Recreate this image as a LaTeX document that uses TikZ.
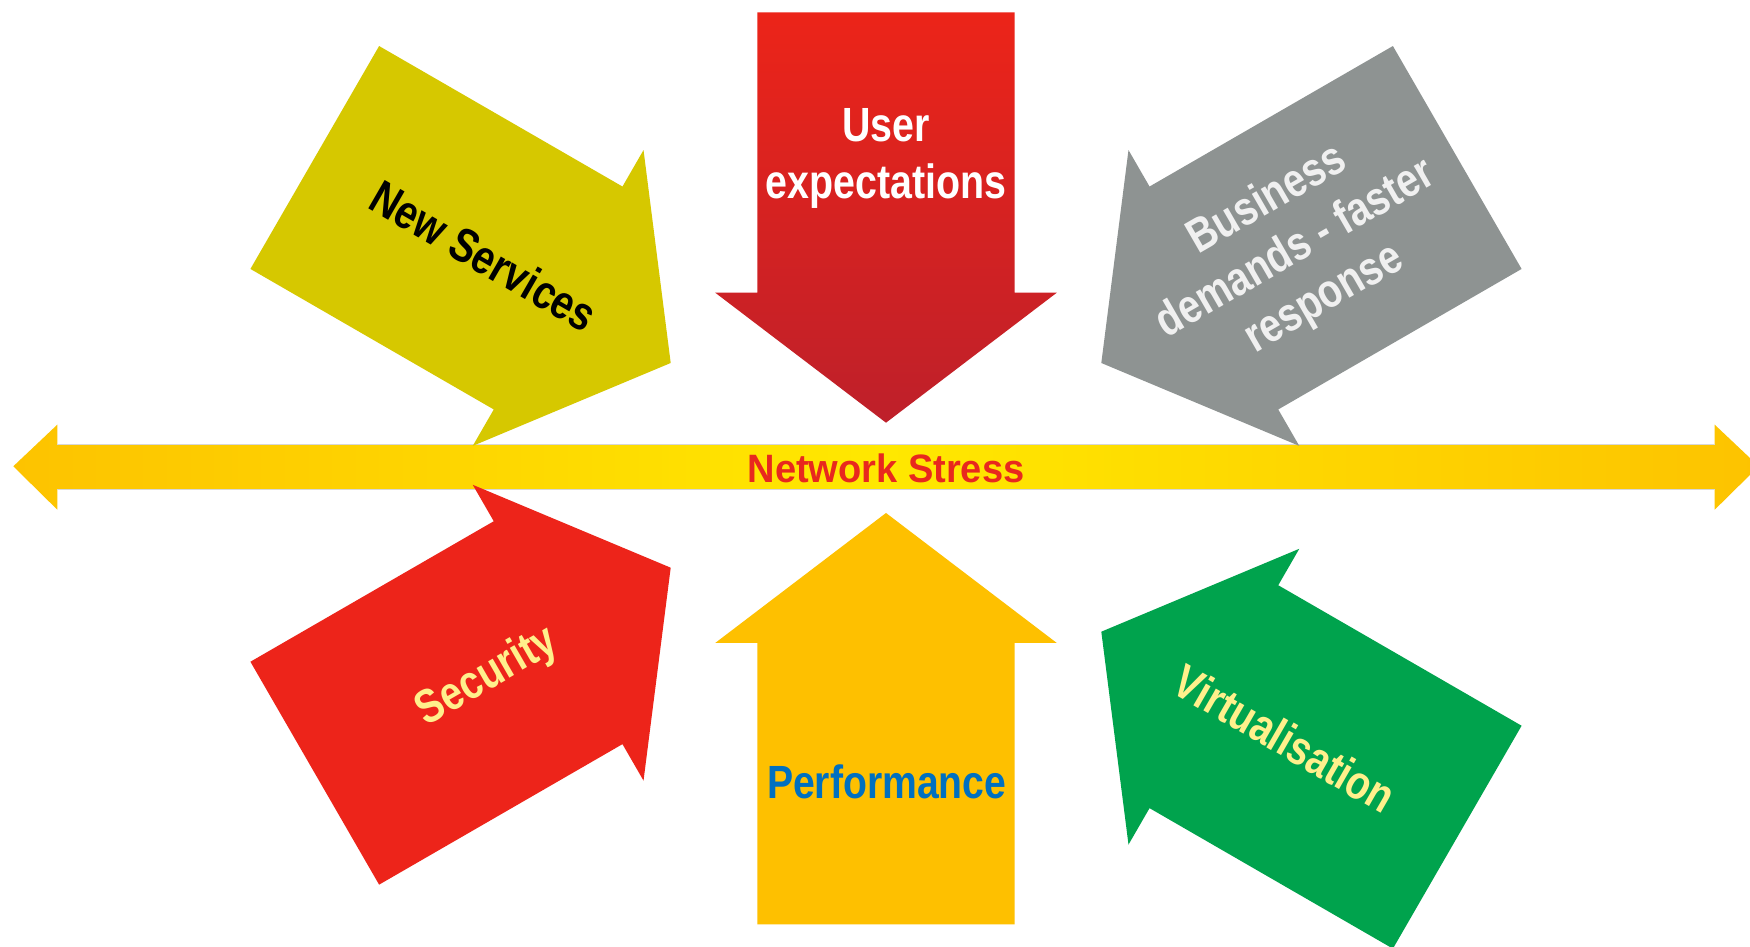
\documentclass[tikz,border=0pt]{standalone}
\usepackage{fontspec}
\newfontfamily\narrowA[FakeStretch=0.82]{Liberation Sans}
\newfontfamily\narrowB[FakeStretch=0.84]{Liberation Sans}
\newfontfamily\wideA[FakeStretch=0.96]{Liberation Sans}
\definecolor{ylwA}{RGB}{214,200,0}
\definecolor{grayA}{RGB}{142,147,146}
\definecolor{redS}{RGB}{237,36,26}
\definecolor{redTop}{RGB}{236,36,25}
\definecolor{redBot}{RGB}{190,32,42}
\definecolor{orgP}{RGB}{254,192,0}
\definecolor{grnV}{RGB}{0,163,77}
\definecolor{barO}{RGB}{253,195,0}
\definecolor{barY}{RGB}{255,232,0}
\definecolor{txtY}{RGB}{255,240,140}
\definecolor{txtB}{RGB}{0,112,192}
\definecolor{txtR}{RGB}{232,40,30}
\definecolor{txtG}{RGB}{240,240,240}
\definecolor{lineG}{RGB}{215,215,215}
\tikzset{
  lbl/.style={inner sep=0pt, align=center},
  diagfont/.style={font=\narrowA\bfseries\fontsize{23.8}{28.5}\selectfont},
}
\begin{document}
\begin{tikzpicture}[x=0.5pt,y=0.5pt]
\useasboundingbox (0,0) rectangle (1750,947);
\clip (0,0) rectangle (1750,947);
\fill[white] (0,0) rectangle (1750,947);

% horizontal double arrow (Network Stress bar)
\shade[left color=barO, right color=barO, middle color=barY]
  (13.3,480.7) -- (57.3,522.3) -- (57.3,502) -- (1714.7,502) -- (1714.7,522.3)
  -- (1758.7,480.7) -- (1714.7,437.3) -- (1714.7,458) -- (57.3,458) -- (57.3,437.3) -- cycle;
\draw[lineG, line width=0.5pt] (57.3,502.3) -- (1714.7,502.3);
\draw[lineG, line width=0.5pt] (57.3,457.7) -- (1714.7,457.7);

% top arrow: User expectations
\shade[top color=redTop, bottom color=redBot]
  (757.3,934.7) -- (1014.7,934.7) -- (1014.7,654.3) -- (1056.8,654.3)
  -- (886,524.3) -- (715.2,654.3) -- (757.3,654.3) -- cycle;

% bottom arrow: Performance
\fill[orgP]
  (757.3,22.7) -- (1014.7,22.7) -- (1014.7,304) -- (1056.8,304)
  -- (886,434) -- (715.2,304) -- (757.3,304) -- cycle;

% New Services arrow
\begin{scope}[shift={(670.7,584)}, rotate=-30]
  \fill[ylwA] (0,0) -- (-130,170.8) -- (-130,128.7) -- (-411,128.7) -- (-411,-128.7)
    -- (-130,-128.7) -- (-130,-170.8) -- cycle;
\end{scope}

% Business arrow
\begin{scope}[shift={(1101.3,584)}, rotate=210]
  \fill[grayA] (0,0) -- (-130,170.8) -- (-130,128.7) -- (-411,128.7) -- (-411,-128.7)
    -- (-130,-128.7) -- (-130,-170.8) -- cycle;
\end{scope}

% Security arrow
\begin{scope}[shift={(670.7,379.3)}, rotate=30]
  \fill[redS] (0,0) -- (-130,170.8) -- (-130,128.7) -- (-411,128.7) -- (-411,-128.7)
    -- (-130,-128.7) -- (-130,-170.8) -- cycle;
\end{scope}

% Virtualisation arrow
\begin{scope}[shift={(1101.3,315.3)}, rotate=150]
  \fill[grnV] (0,0) -- (-130,170.8) -- (-130,128.7) -- (-411,128.7) -- (-411,-128.7)
    -- (-130,-128.7) -- (-130,-170.8) -- cycle;
\end{scope}

% labels
\node[lbl, text=white, font=\narrowA\bfseries\fontsize{24}{28.8}\selectfont]
  (nUser) at (886,788.7) {User\\expectations};
\node[lbl, diagfont, text=black, rotate=-30] (nNew) at (484,691) {New Services};
\node[lbl, diagfont, text=txtG, rotate=30] (nBiz) at (1296,697.3)
  {Business\\demands - faster\\response};
\node[lbl, anchor=base, text=txtR, font=\wideA\bfseries\fontsize{19.8}{24}\selectfont]
  (nStress) at (886,464.7) {Network Stress};
\node[lbl, diagfont, text=txtY, rotate=30] (nSec) at (487.5,270) {Security};
\node[lbl, anchor=base, text=txtB, font=\narrowB\bfseries\fontsize{23.3}{28}\selectfont]
  (nPerf) at (886.7,148.3) {Performance};
\node[lbl, diagfont, text=txtY, rotate=-30] (nVirt) at (1285,208.5) {Virtualisation};
\end{tikzpicture}
\end{document}
